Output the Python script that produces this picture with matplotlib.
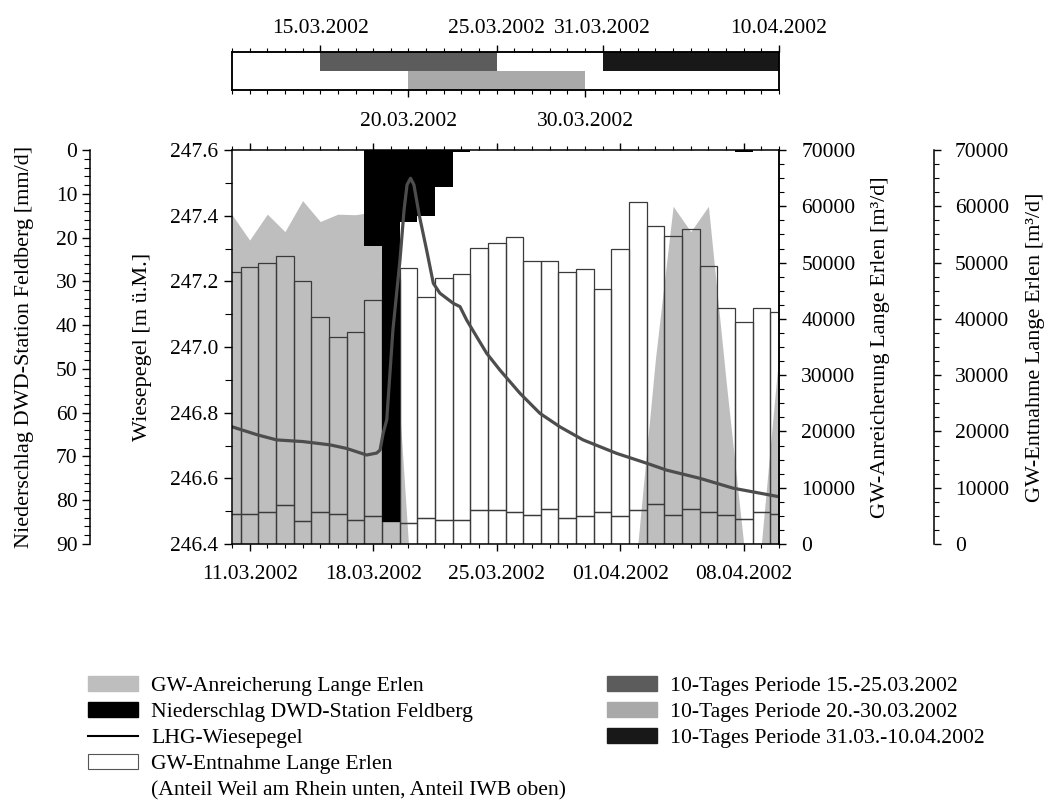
import matplotlib
matplotlib.use("Agg")
import matplotlib.pyplot as plt
import matplotlib.dates as mdates
from matplotlib.patches import Patch
from matplotlib.lines import Line2D
from matplotlib.ticker import MultipleLocator, FormatStrFormatter
import numpy as np
import pandas as pd

plt.rcParams['font.family'] = ['Liberation Serif', 'DejaVu Serif']
plt.rcParams['font.size'] = 15.5
plt.rcParams['axes.labelsize'] = 16
plt.rcParams['axes.linewidth'] = 1.1

# ---- Daten (Tageswerte 10.03.2002 - 10.04.2002) ----
tage = pd.date_range('2002-03-10', '2002-04-10', freq='D')

# GW-Anreicherung Lange Erlen [m3/d]
anreicherung = [58500, 54000, 58600, 55500, 61000, 57300, 58600, 58500, 59000, 48000,
                0, 0, 0, 0, 0, 0, 0, 0, 0, 0, 0, 0, 0, 0,
                33000, 60000, 55500, 60000, 29000, 0, 0, 34000]

# GW-Entnahme Lange Erlen gesamt und Anteil Weil am Rhein [m3/d]
entnahme_gesamt = [48300, 49300, 50000, 51200, 46700, 40400, 36700, 37600, 43400, 47000,
                   49000, 43900, 47300, 48000, 52600, 53400, 54600, 50300, 50200, 48400,
                   48900, 45300, 52400, 60700, 56500, 54800, 56000, 49400, 41900, 39500,
                   42000, 41200]
entnahme_weil = [5300, 5300, 5700, 7000, 4100, 5600, 5300, 4300, 4900, 4000,
                 3800, 4700, 4200, 4300, 6000, 6000, 5600, 5200, 6300, 4600,
                 4900, 5700, 4900, 6000, 7100, 5200, 6300, 5700, 5200, 4400,
                 5700, 5300]

# Niederschlag DWD-Station Feldberg [mm/d]
niederschlag = [0, 0, 0, 0, 0, 0, 0, 0, 21.9, 85.0,
                16.5, 15.1, 8.4, 0.4, 0, 0, 0, 0, 0, 0,
                0, 0, 0, 0, 0, 0, 0, 0, 0, 0.5,
                0, 0]

# LHG-Wiesepegel [m ü.M.], Zeit in Tagen ab 10.03.2002 00:00
pegel_tag = [0.0, 1.47, 2.53, 4.02, 5.55, 6.5, 7.63, 8.2, 8.39, 8.57, 8.77, 9.12, 9.52,
             9.75, 9.92, 10.12, 10.31, 10.61, 11.03, 11.41, 11.78, 12.54, 12.92,
             13.3, 14.43, 15.18, 16.32, 17.45, 18.58, 19.9, 21.8, 23.5, 24.63, 26.52,
             28.4, 31.0]
pegel_m = [246.757, 246.732, 246.717, 246.712, 246.702, 246.691, 246.671, 246.677,
           246.686, 246.738, 246.778, 247.052, 247.265, 247.417, 247.494, 247.514,
           247.494, 247.402, 247.295, 247.194, 247.164, 247.133, 247.123,
           247.082, 246.981, 246.930, 246.859, 246.798, 246.757, 246.717, 246.676,
           246.646, 246.625, 246.600, 246.570, 246.544]

# 10-Tages Perioden
perioden_start = ['2002-03-15', '2002-03-20', '2002-03-31']
perioden_ende = ['2002-03-25', '2002-03-30', '2002-04-10']
perioden_zeile = [1, 0, 1]
perioden_farbe = ['#5c5c5c', '#a9a9a9', '#181818']
perioden_label = ['10-Tages Periode 15.-25.03.2002',
                  '10-Tages Periode 20.-30.03.2002',
                  '10-Tages Periode 31.03.-10.04.2002']

grau = '#bebebe'
linie = '#4d4d4d'

W_PX, H_PX = 1049, 807
fig = plt.figure(figsize=(W_PX / 100, H_PX / 100), dpi=100)

def fx(px):
    return px / W_PX

def fy(py):
    return 1 - py / H_PX

L, R, T, B = 232, 779, 150, 544
ax = fig.add_axes([fx(L), fy(B), fx(R - L), (B - T) / H_PX])
ax_gw = ax.twinx()
ax_ent = ax.twinx()
ax_ns = ax.twinx()

for i, a in enumerate([ax_gw, ax_ent, ax_ns, ax]):
    a.set_zorder(i + 1)
    a.patch.set_visible(False)

xmin = pd.Timestamp('2002-03-10')
xmax = pd.Timestamp('2002-04-10')

# GW-Anreicherung (Fläche)
ax_gw.fill_between(tage, anreicherung, 0, color=grau, lw=0)
ax_gw.set_ylim(0, 70000)

# GW-Entnahme (Balken, unten Weil am Rhein, oben IWB)
iwb = np.array(entnahme_gesamt) - np.array(entnahme_weil)
ax_ent.bar(tage, entnahme_weil, width=1.0, facecolor='none', edgecolor='#3a3a3a', lw=0.9)
ax_ent.bar(tage, iwb, bottom=entnahme_weil, width=1.0, facecolor='none',
           edgecolor='#3a3a3a', lw=0.9)
ax_ent.set_ylim(0, 70000)

# Niederschlag (von oben)
ax_ns.bar(tage, niederschlag, width=1.0, color='black', lw=0)
ax_ns.set_ylim(90, 0)

# Wiesepegel
pegel_zeit = xmin + pd.to_timedelta(pegel_tag, unit='D')
ax.plot(pegel_zeit, pegel_m, color=linie, lw=2.3)
ax.set_ylim(246.4, 247.6)
ax.set_xlim(xmin, xmax)

# x-Achse
ax.xaxis.set_major_locator(mdates.WeekdayLocator(byweekday=mdates.MO))
ax.xaxis.set_minor_locator(mdates.DayLocator())
ax.xaxis.set_major_formatter(mdates.DateFormatter('%d.%m.%Y'))
ax.tick_params(axis='x', which='both', direction='out', top=True, pad=10)
ax.tick_params(axis='x', which='major', length=5, width=1)
ax.tick_params(axis='x', which='minor', length=3, width=0.8)

# Wiesepegel-Achse
ax.yaxis.set_major_locator(MultipleLocator(0.2))
ax.yaxis.set_minor_locator(MultipleLocator(0.1))
ax.yaxis.set_major_formatter(FormatStrFormatter('%.1f'))
ax.tick_params(axis='y', which='both', direction='out', left=True, right=False, pad=4)
ax.tick_params(axis='y', which='major', length=6, width=1)
ax.tick_params(axis='y', which='minor', length=5, width=0.8)
ax.set_ylabel('Wiesepegel [m ü.M.]')
ax.yaxis.set_label_coords((152 - L) / (R - L), 0.5)

# Niederschlag-Achse links aussen
for s in ['right', 'top', 'bottom']:
    ax_ns.spines[s].set_visible(False)
ax_ns.spines['left'].set_visible(True)
ax_ns.spines['left'].set_position(('axes', (90 - L) / (R - L)))
ax_ns.yaxis.set_ticks_position('left')
ax_ns.yaxis.set_label_position('left')
ax_ns.yaxis.set_major_locator(MultipleLocator(10))
ax_ns.yaxis.set_minor_locator(MultipleLocator(2))
ax_ns.tick_params(axis='y', which='both', direction='out', pad=3)
ax_ns.tick_params(axis='y', which='major', length=6, width=1)
ax_ns.tick_params(axis='y', which='minor', length=4, width=0.8)
ax_ns.set_ylabel('Niederschlag DWD-Station Feldberg [mm/d]')
ax_ns.yaxis.set_label_coords((34 - L) / (R - L), 0.5)

# GW-Anreicherung-Achse rechts
for s in ['left', 'top', 'bottom']:
    ax_gw.spines[s].set_visible(False)
ax_gw.yaxis.set_major_locator(MultipleLocator(10000))
ax_gw.yaxis.set_minor_locator(MultipleLocator(2500))
ax_gw.tick_params(axis='y', which='both', direction='out', pad=11)
ax_gw.tick_params(axis='y', which='major', length=5, width=1)
ax_gw.tick_params(axis='y', which='minor', length=3.5, width=0.8)
ax_gw.set_ylabel('GW-Anreicherung Lange Erlen [m³/d]')
ax_gw.yaxis.set_label_coords((871 - L) / (R - L), 0.5)

# GW-Entnahme-Achse rechts aussen
for s in ['left', 'top', 'bottom']:
    ax_ent.spines[s].set_visible(False)
ax_ent.spines['right'].set_position(('axes', (934 - L) / (R - L)))
ax_ent.yaxis.set_major_locator(MultipleLocator(10000))
ax_ent.yaxis.set_minor_locator(MultipleLocator(2500))
ax_ent.tick_params(axis='y', which='both', direction='out', pad=10)
ax_ent.tick_params(axis='y', which='major', length=5, width=1)
ax_ent.tick_params(axis='y', which='minor', length=3.5, width=0.8)
ax_ent.set_ylabel('GW-Entnahme Lange Erlen [m³/d]')
ax_ent.yaxis.set_label_coords((1026 - L) / (R - L), 0.5)

# ---- Zeitleiste der 10-Tages Perioden ----
ax_t = fig.add_axes([fx(L), fy(90), fx(R - L), 38 / H_PX])
ax_t2 = ax_t.twiny()
for a in [ax_t, ax_t2]:
    a.set_xlim(xmin, xmax)
ax_t.set_ylim(0, 2)
for s, e, z, c in zip(perioden_start, perioden_ende, perioden_zeile, perioden_farbe):
    s0 = mdates.date2num(pd.Timestamp(s))
    e0 = mdates.date2num(pd.Timestamp(e))
    ax_t.barh(z + 0.5, e0 - s0, left=s0, height=1.0, color=c, lw=0)
ax_t.set_yticks([])

unten = [pd.Timestamp(d) for i, z in enumerate(perioden_zeile) if z == 0
         for d in (perioden_start[i], perioden_ende[i])]
oben = [pd.Timestamp(d) for i, z in enumerate(perioden_zeile) if z == 1
        for d in (perioden_start[i], perioden_ende[i])]
for a, ticks in [(ax_t, unten), (ax_t2, oben)]:
    a.set_xticks(ticks)
    a.xaxis.set_minor_locator(mdates.DayLocator())
    a.xaxis.set_major_formatter(mdates.DateFormatter('%d.%m.%Y'))
    a.tick_params(axis='x', which='both', direction='out')
    a.tick_params(axis='x', which='major', length=5, width=1)
    a.tick_params(axis='x', which='minor', length=3, width=0.8)
ax_t.tick_params(axis='x', which='major', pad=11)
ax_t2.tick_params(axis='x', which='major', pad=5)

# ---- Legenden ----
h_links = [Patch(facecolor=grau, edgecolor=grau),
           Patch(facecolor='black', edgecolor='black'),
           Line2D([], [], color='black', lw=1.5),
           Patch(facecolor='white', edgecolor='#555555', lw=0.8),
           Patch(facecolor='none', edgecolor='none')]
l_links = ['GW-Anreicherung Lange Erlen',
           'Niederschlag DWD-Station Feldberg',
           'LHG-Wiesepegel',
           'GW-Entnahme Lange Erlen',
           '(Anteil Weil am Rhein unten, Anteil IWB oben)']
opts = dict(loc='upper left', frameon=False, fontsize=15.6, handlelength=2.3,
            handleheight=0.7, handletextpad=0.62, labelspacing=0.27,
            borderpad=0, borderaxespad=0)
fig.legend(h_links, l_links, bbox_to_anchor=(fx(88), fy(676)), **opts)

h_rechts = [Patch(facecolor=c, edgecolor=c) for c in perioden_farbe]
fig.legend(h_rechts, perioden_label, bbox_to_anchor=(fx(607), fy(676)), **opts)

fig.savefig('out.png', dpi=100)
